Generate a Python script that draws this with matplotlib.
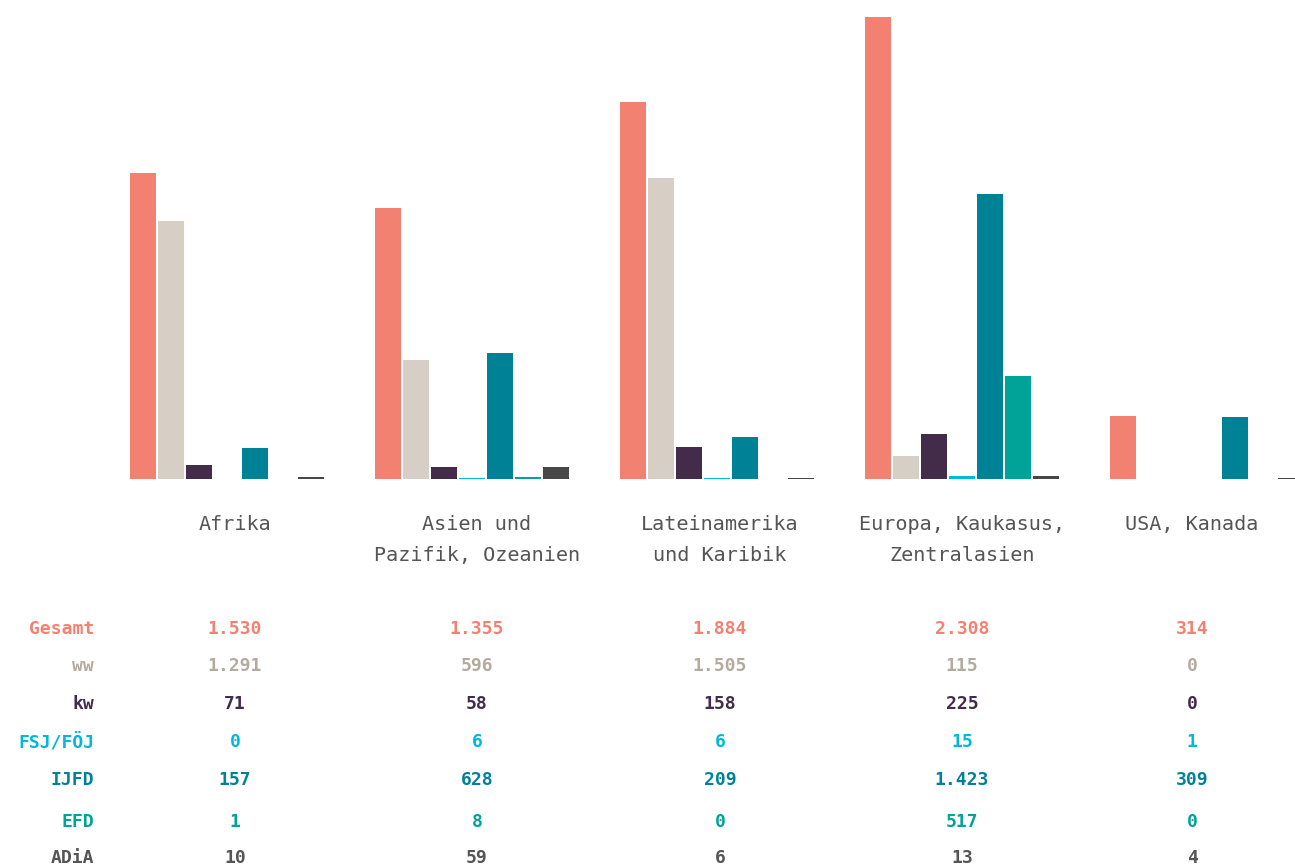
import matplotlib
matplotlib.use("Agg")
import matplotlib.pyplot as plt
import numpy as np

regions = ["Afrika", "Asien und\nPazifik, Ozeanien", "Lateinamerika\nund Karibik",
           "Europa, Kaukasus,\nZentralasien", "USA, Kanada"]
series = ["Gesamt", "ww", "kw", "FSJ/FÖJ", "IJFD", "EFD", "ADiA"]
gesamt = [1530, 1355, 1884, 2308, 314]
ww = [1291, 596, 1505, 115, 0]
kw = [71, 58, 158, 225, 0]
fsj = [0, 6, 6, 15, 1]
ijfd = [157, 628, 209, 1423, 309]
efd = [1, 8, 0, 517, 0]
adia = [10, 59, 6, 13, 4]
values = [gesamt, ww, kw, fsj, ijfd, efd, adia]

bar_colors = ["#F38172", "#D7CFC5", "#432C4A", "#00B8D9", "#008296", "#00A398", "#474747"]
text_colors = ["#F38172", "#B3AB9E", "#432C4A", "#00B8D9", "#008296", "#00A398", "#555555"]

W, H = 1295, 868
fig = plt.figure(figsize=(W / 100, H / 100), dpi=100)

base_px = 479  # baseline from top
ax = fig.add_axes([0, (H - base_px) / H, 1, base_px / H])
group_px0, group_step = 227, 245
ax.set_xlim(-group_px0 / group_step, (W - group_px0) / group_step)
ax.set_ylim(0, 2308 * base_px / 462)
ax.axis("off")

pitch = 28 / group_step
bw = 26 / group_step
x = np.arange(len(regions))
for j, (vals, c) in enumerate(zip(values, bar_colors)):
    ax.bar(x + (j - 3) * pitch, vals, width=bw, color=c, linewidth=0)

col_px = [235, 477, 720, 962, 1192]
for cx, name in zip(col_px, regions):
    fig.text(cx / W, 1 - 515 / H, name, ha="center", va="top",
             family="DejaVu Sans Mono", fontsize=14.5, color="#555555",
             linespacing=1.8)

row_px = [629, 666, 704, 742, 780, 822, 858]
for ry, name, vals, tc in zip(row_px, series, values, text_colors):
    fig.text(94 / W, 1 - ry / H, name, ha="right", va="center",
             family="DejaVu Sans Mono", fontsize=13, color=tc, fontweight="bold")
    for cx, v in zip(col_px, vals):
        s = f"{v:,}".replace(",", ".")
        fig.text(cx / W, 1 - ry / H, s, ha="center", va="center",
                 family="DejaVu Sans Mono", fontsize=13, color=tc, fontweight="bold")

fig.savefig("out.png", dpi=100, facecolor="white")
